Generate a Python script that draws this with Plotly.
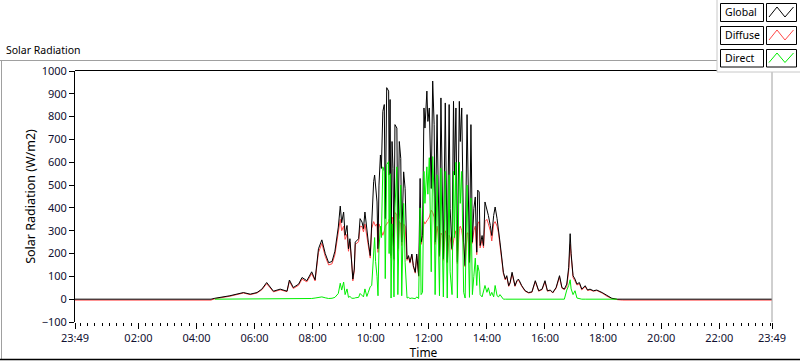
import plotly.graph_objects as go

DAY = "2015-07-01"
PREV = "2015-06-30"

times = ["04:30", "04:38", "05:09", "05:37", "05:51", "06:05", "06:15", "06:25", "06:32", "06:39",
         "06:53", "07:07", "07:12", "07:20", "07:31", "07:38", "07:48", "07:58", "08:05", "08:12",
         "08:19", "08:26", "08:33", "08:40", "08:46", "08:53", "08:57", "09:00", "09:04", "09:07",
         "09:11", "09:14", "09:17", "09:21", "09:23", "09:26", "09:28", "09:35", "09:38", "09:42",
         "09:45", "09:48", "09:52", "09:55", "09:59", "10:02", "10:06", "10:08", "10:10", "10:13",
         "10:15", "10:17", "10:20", "10:22", "10:25", "10:28", "10:30", "10:33", "10:37", "10:38",
         "10:40", "10:42", "10:44", "10:46", "10:48", "10:50", "10:54", "10:56", "10:59", "11:02",
         "11:04", "11:08", "11:11", "11:15", "11:18", "11:21", "11:25", "11:28", "11:32", "11:35",
         "11:39", "11:42", "11:44", "11:47", "11:50", "11:52", "11:56", "11:58", "12:01", "12:05",
         "12:08", "12:11", "12:13", "12:17", "12:19", "12:22", "12:25", "12:28", "12:30", "12:34",
         "12:36", "12:38", "12:42", "12:44", "12:48", "12:51", "12:53", "12:56", "12:59", "13:03",
         "13:05", "13:08", "13:12", "13:15", "13:19", "13:21", "13:24", "13:27", "13:30", "13:33",
         "13:36", "13:39", "13:41", "13:44", "13:46", "13:50", "13:53", "13:56", "14:00", "14:03",
         "14:07", "14:10", "14:14", "14:17", "14:21", "14:24", "14:27", "14:31", "14:34", "14:38",
         "14:41", "14:45", "14:48", "14:52", "14:55", "14:58", "15:02", "15:05", "15:07", "15:12",
         "15:19", "15:26", "15:33", "15:40", "15:47", "15:54", "16:00", "16:05", "16:11", "16:16",
         "16:23", "16:30", "16:35", "16:40", "16:45", "16:49", "16:52", "16:54", "16:58", "17:02",
         "17:06", "17:11", "17:16", "17:23", "17:28", "17:33", "17:40", "17:47", "17:58", "18:08",
         "18:18", "18:29", "18:40"]

global_rad = [0, 4, 15, 29, 22, 29, 44, 73, 54, 35,
              44, 35, 84, 51, 66, 95, 81, 120, 85, 221,
              260, 200, 160, 165, 210, 316, 408, 335, 382, 280,
              323, 221, 265, 162, 88, 132, 250, 265, 353, 338,
              309, 382, 294, 250, 191, 367, 515, 544, 485, 426,
              221, 500, 632, 573, 823, 853, 353, 927, 912, 544,
              875, 191, 691, 573, 176, 765, 750, 221, 691, 617,
              250, 558, 485, 176, 191, 162, 198, 147, 118, 198,
              103, 529, 250, 279, 838, 750, 912, 779, 838, 485,
              956, 765, 250, 809, 544, 191, 882, 397, 176, 860,
              544, 162, 853, 397, 221, 867, 544, 838, 162, 867,
              691, 838, 250, 147, 809, 544, 162, 765, 250, 397,
              448, 206, 478, 470, 235, 279, 235, 426, 397, 367,
              323, 279, 367, 404, 353, 309, 250, 176, 118, 88,
              103, 59, 73, 118, 88, 59, 81, 88, 81, 59,
              37, 29, 32, 81, 37, 44, 81, 37, 40, 29,
              51, 103, 51, 44, 66, 140, 287, 199, 103, 88,
              66, 73, 44, 59, 40, 44, 37, 40, 29, 15,
              4, 0, 0]

diffuse_rad = [-4, 2, 13, 27, 20, 27, 41, 68, 48, 32,
               41, 33, 78, 47, 61, 88, 76, 112, 80, 205,
               245, 188, 150, 155, 195, 290, 350, 300, 320, 262,
               285, 210, 250, 155, 80, 125, 240, 252, 320, 318,
               295, 330, 280, 238, 180, 310, 340, 330, 320, 330,
               205, 330, 310, 300, 280, 300, 320, 330, 340, 350,
               340, 180, 360, 350, 170, 380, 370, 210, 340, 330,
               235, 330, 320, 170, 185, 158, 192, 142, 114, 190,
               100, 360, 240, 265, 340, 330, 340, 350, 360, 390,
               380, 360, 240, 320, 290, 185, 290, 280, 170, 300,
               290, 158, 280, 270, 215, 270, 280, 300, 155, 310,
               320, 300, 240, 142, 290, 290, 158, 300, 245, 300,
               320, 195, 330, 340, 225, 260, 225, 340, 350, 330,
               300, 255, 330, 340, 320, 290, 240, 170, 113, 84,
               98, 56, 70, 112, 84, 56, 78, 84, 77, 56,
               35, 27, 30, 77, 35, 42, 76, 35, 38, 27,
               48, 97, 48, 42, 55, 125, 240, 180, 95, 80,
               62, 68, 41, 55, 38, 41, 35, 38, 27, 13,
               3, -2, -4]

direct_rad = [None, 0, 0, 1, 0, 1, 1, 2, 1, 1,
              1, 1, 2, 1, 2, 3, 2, 3, 5, 8,
              10, 6, 3, 4, 8, 25, 70, 40, 75, 20,
              45, 8, 12, 4, 3, 4, 6, 8, 25, 15,
              10, 45, 12, 30, 55, 60, 175, 270, 165, 100,
              15, 220, 320, 270, 580, 560, 90, 590, 603, 200,
              550, 5, 330, 230, 10, 400, 580, 20, 350, 500,
              15, 420, 160, 5, 8, 3, 5, 3, 2, 10,
              3, 400, 20, 30, 560, 420, 580, 460, 620, 120,
              625, 450, 20, 545, 300, 15, 575, 110, 10, 560,
              260, 5, 545, 120, 20, 560, 270, 600, 5, 600,
              420, 560, 30, 5, 500, 250, 8, 443, 20, 100,
              180, 60, 150, 120, 20, 10, 40, 60, 30, 50,
              15, 30, 10, 60, 15, 10, 20, 5, 0, 0,
              0, 0, 0, 1, 0, 0, 0, 0, 0, 0,
              0, 0, 0, 0, 0, 0, 0, 0, 0, 0,
              0, 1, 0, 0, 40, 60, 85, 45, 20, 37,
              5, 2, 0, 0, 0, 0, 0, 0, 0, 0,
              0, 0, None]

x_tick_vals = [PREV + " 23:49"] + [DAY + " %02d:00" % h for h in range(2, 23, 2)] + [DAY + " 23:49"]
x_tick_text = ["23:49", "02:00", "04:00", "06:00", "08:00", "10:00", "12:00",
               "14:00", "16:00", "18:00", "20:00", "22:00", "23:49"]
y_tick_vals = [-100, 0, 100, 200, 300, 400, 500, 600, 700, 800, 900, 1000]

x_start = PREV + " 23:49"
x_end = DAY + " 23:49"
xs = [x_start] + [DAY + " " + t for t in times] + [x_end]

FONT = "Noto Sans, DejaVu Sans, sans-serif"

fig = go.Figure()
fig.add_trace(go.Scatter(x=xs, y=[-4] + diffuse_rad + [-4], mode="lines", name="Diffuse",
                         line=dict(color="#ff4848", width=1), connectgaps=False))
fig.add_trace(go.Scatter(x=xs, y=[0] + global_rad + [0], mode="lines", name="Global",
                         line=dict(color="#000000", width=1)))
fig.add_trace(go.Scatter(x=xs, y=[None] + direct_rad + [None], mode="lines", name="Direct",
                         line=dict(color="#00ee00", width=1), connectgaps=False))

L, R, T, B = 75, 772, 71, 322
W, H = R - L, B - T


def fx(px):
    return (px - L) / W


def fy(py):
    return (B - py) / H


shapes = []
# outer frame
shapes.append(dict(type="line", xref="paper", yref="paper", x0=fx(0), x1=fx(718), y0=fy(60.5), y1=fy(60.5),
                   line=dict(color="#a0a0a0", width=1)))
shapes.append(dict(type="line", xref="paper", yref="paper", x0=fx(1.5), x1=fx(1.5), y0=fy(60.5), y1=fy(359),
                   line=dict(color="#a0a0a0", width=1)))
shapes.append(dict(type="line", xref="paper", yref="paper", x0=fx(0), x1=fx(800), y0=fy(359.5), y1=fy(359.5),
                   line=dict(color="#000000", width=1.5)))
# plot frame top and right
shapes.append(dict(type="line", xref="paper", yref="paper", x0=fx(L), x1=fx(R), y0=fy(70.5), y1=fy(70.5),
                   line=dict(color="#000000", width=1)))
shapes.append(dict(type="line", xref="paper", yref="paper", x0=fx(R), x1=fx(R), y0=fy(70.5), y1=fy(B),
                   line=dict(color="#a0a0a0", width=1)))
# legend panel
shapes.append(dict(type="rect", xref="paper", yref="paper", x0=fx(717), x1=fx(801), y0=fy(72), y1=fy(-1),
                   fillcolor="white", line=dict(color="#c8c8c8", width=1)))
legend_names = ["Global", "Diffuse", "Direct"]
legend_colors = ["#000000", "#ff4848", "#00ee00"]
legend_rows = [(3.5, 21.5), (26.5, 44.5), (49.5, 67)]
annotations = []
for name, col, (ya, yb) in zip(legend_names, legend_colors, legend_rows):
    shapes.append(dict(type="rect", xref="paper", yref="paper", x0=fx(720.5), x1=fx(763.5),
                       y0=fy(yb), y1=fy(ya), fillcolor="white", line=dict(color="#000000", width=1)))
    shapes.append(dict(type="rect", xref="paper", yref="paper", x0=fx(766.5), x1=fx(796.5),
                       y0=fy(yb), y1=fy(ya), fillcolor="white", line=dict(color="#000000", width=1)))
    ylo, yhi = yb - 4.5, ya + 3.5
    path = "M %f,%f L %f,%f L %f,%f L %f,%f" % (fx(769), fy(ylo), fx(777), fy(yhi),
                                                 fx(785), fy(ylo), fx(793.5), fy(yhi))
    shapes.append(dict(type="path", xref="paper", yref="paper", path=path,
                       line=dict(color=col, width=1)))
    annotations.append(dict(text=name, xref="paper", yref="paper", x=fx(722.5), y=fy((ya + yb) / 2),
                            xanchor="left", yanchor="middle", showarrow=False,
                            font=dict(family=FONT, size=10.5, color="#000000")))

annotations.append(dict(text="Solar Radiation", xref="paper", yref="paper", x=fx(4), y=fy(50),
                        xanchor="left", yanchor="middle", showarrow=False,
                        font=dict(family=FONT, size=10.5, color="#000000")))

fig.update_layout(
    width=800, height=361,
    margin=dict(l=L, r=800 - R, t=T, b=361 - B, autoexpand=False),
    paper_bgcolor="white", plot_bgcolor="white",
    showlegend=False,
    shapes=shapes,
    annotations=annotations,
    font=dict(family=FONT, size=11, color="#000000"),
)
fig.update_xaxes(
    type="date", range=[x_start, x_end], automargin=False,
    tickmode="array", tickvals=x_tick_vals, ticktext=x_tick_text,
    ticks="outside", ticklen=6, tickcolor="#000000", tickwidth=1,
    showgrid=False, zeroline=False, showline=False,
    tickfont=dict(family=FONT, size=11, color="#101030"),
    title=dict(text="Time", font=dict(family=FONT, size=12, color="#000000"), standoff=1),
    minor=dict(tickmode="linear", tick0=DAY + " 00:00", dtick=900000, ticks="outside",
               ticklen=3, tickcolor="#000000", showgrid=False),
)
fig.update_yaxes(
    range=[-100, 1000], tickmode="array", tickvals=y_tick_vals, automargin=False,
    ticks="outside", ticklen=5, tickcolor="#000000",
    showgrid=False, zeroline=False, showline=True, linecolor="#000000", linewidth=1,
    tickfont=dict(family=FONT, size=11, color="#101030"),
    title=dict(text="Solar Radiation (W/m2)", font=dict(family=FONT, size=12.5, color="#000000"), standoff=3),
)

fig.write_html("out.html", config={"displayModeBar": False},
               post_script="document.body.style.margin='0px';")
